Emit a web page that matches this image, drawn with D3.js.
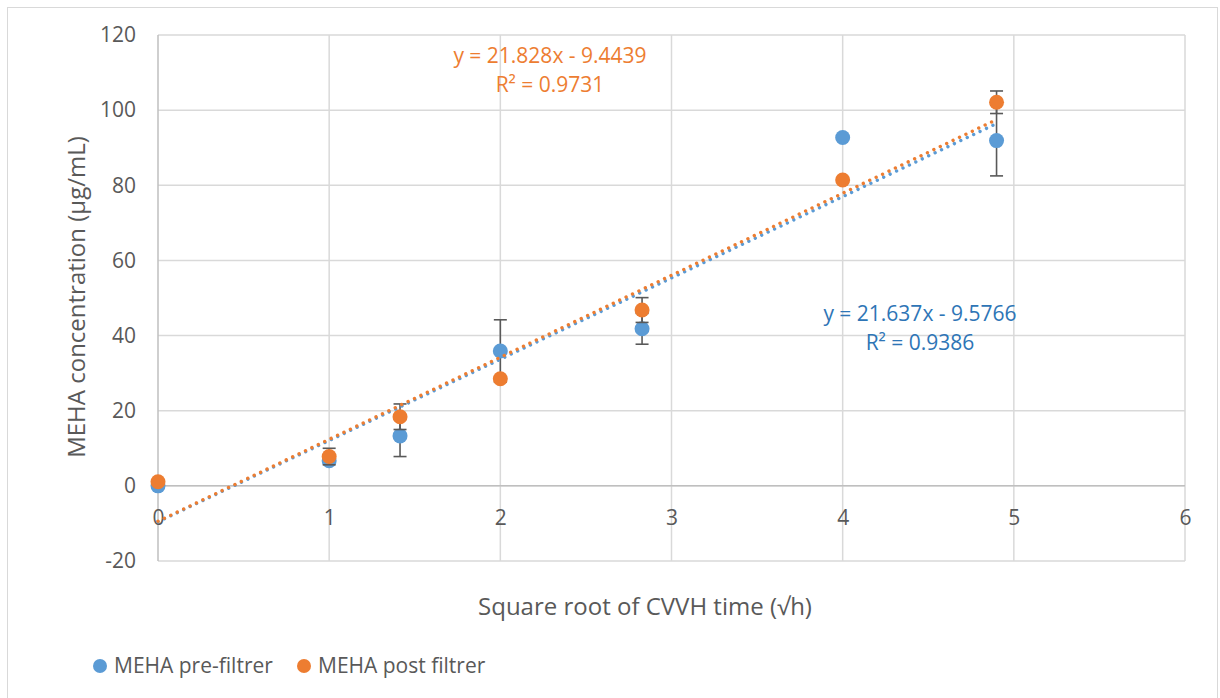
<!DOCTYPE html>
<html>
<head>
<meta charset="utf-8">
<script src="https://cdn.jsdelivr.net/npm/d3@7"></script>
<style>
  html, body { margin: 0; padding: 0; background: #fff; }
  svg text { font-family: "Open Sans", "Noto Sans", sans-serif; }
</style>
</head>
<body>
<svg id="chart" width="1220" height="698"></svg>
<script>
// ---- data ----
const xValues = [0, 1, 1.414, 2, 2.828, 4, 4.899];
const preFilter = [0, 6.7, 13.3, 35.9, 41.8, 92.7, 91.9];
const preFilterErr = [0, 0, 5.5, 8.3, 4.1, 0, 9.4];
const postFilter = [1.1, 7.8, 18.4, 28.5, 46.8, 81.4, 102.1];
const postFilterErr = [0, 2.2, 3.4, 0, 3.3, 0, 3.0];
const seriesNames = ["MEHA pre-filtrer", "MEHA post filtrer"];
const trendPre = { slope: 21.637, intercept: -9.5766, r2: "0.9386" };
const trendPost = { slope: 21.828, intercept: -9.4439, r2: "0.9731" };
const xTicks = [0, 1, 2, 3, 4, 5, 6];
const yTicks = [-20, 0, 20, 40, 60, 80, 100, 120];
const xTitle = "Square root of CVVH time (√h)";
const yTitle = "MEHA concentration (µg/mL)";

// ---- layout ----
const colors = ["#5B9BD5", "#ED7D31"];
const eqColors = ["#2E75B6", "#ED7D31"];
const svg = d3.select("#chart");
const x = d3.scaleLinear().domain([0, 6]).range([158, 1185]);
const y = d3.scaleLinear().domain([-20, 120]).range([561, 35]);

// outer border
svg.append("rect").attr("x", 7.5).attr("y", 7.5).attr("width", 1210).attr("height", 700)
  .attr("fill", "#fff").attr("stroke", "#D9D9D9").attr("stroke-width", 1);

// gridlines
const grid = svg.append("g");
grid.selectAll("line.h").data(yTicks).enter().append("line")
  .attr("x1", x(0)).attr("x2", x(6))
  .attr("y1", d => y(d)).attr("y2", d => y(d))
  .attr("stroke", "#D9D9D9").attr("stroke-width", 1.5);
grid.selectAll("line.v").data(xTicks.slice(1)).enter().append("line")
  .attr("x1", d => x(d)).attr("x2", d => x(d))
  .attr("y1", y(120)).attr("y2", y(-20))
  .attr("stroke", "#D9D9D9").attr("stroke-width", 1.5);

// axis lines
svg.append("line").attr("x1", x(0)).attr("x2", x(0)).attr("y1", y(120)).attr("y2", y(-20))
  .attr("stroke", "#BFBFBF").attr("stroke-width", 1.5);
svg.append("line").attr("x1", x(0)).attr("x2", x(6)).attr("y1", y(0)).attr("y2", y(0))
  .attr("stroke", "#BFBFBF").attr("stroke-width", 1.5);

// tick labels via d3 axes (lines hidden)
const yAxis = svg.append("g").attr("transform", `translate(${x(0)},0)`)
  .call(d3.axisLeft(y).tickValues(yTicks).tickSize(0).tickPadding(22).tickFormat(d => String(d)));
const xAxis = svg.append("g").attr("transform", `translate(0,${y(0)})`)
  .call(d3.axisBottom(x).tickValues(xTicks).tickSize(0).tickPadding(24).tickFormat(d => String(d)));
[yAxis, xAxis].forEach(a => {
  a.select(".domain").remove();
  a.selectAll("text").attr("fill", "#595959").style("font-size", "21px")
    .style("font-family", '"Open Sans", sans-serif');
});

// axis titles
svg.append("text").attr("x", 645).attr("y", 615).attr("text-anchor", "middle")
  .attr("fill", "#595959").style("font-size", "24px").text(xTitle);
svg.append("text").attr("transform", "translate(85,297) rotate(-90)").attr("text-anchor", "middle")
  .attr("fill", "#595959").style("font-size", "24px").text(yTitle);

// series
const series = [
  { vals: preFilter, err: preFilterErr, color: colors[0] },
  { vals: postFilter, err: postFilterErr, color: colors[1] }
];
series.forEach(s => {
  const pts = xValues.map((xv, i) => ({ x: xv, y: s.vals[i], e: s.err[i] }));
  const g = svg.append("g");
  const eb = pts.filter(p => p.e > 0);
  g.selectAll("line.eb").data(eb).enter().append("line")
    .attr("x1", p => x(p.x)).attr("x2", p => x(p.x))
    .attr("y1", p => y(p.y - p.e)).attr("y2", p => y(p.y + p.e))
    .attr("stroke", "#595959").attr("stroke-width", 1.6);
  [-1, 1].forEach(sg => {
    g.selectAll("line.cap" + sg).data(eb).enter().append("line")
      .attr("x1", p => x(p.x) - 6.5).attr("x2", p => x(p.x) + 6.5)
      .attr("y1", p => y(p.y + sg * p.e)).attr("y2", p => y(p.y + sg * p.e))
      .attr("stroke", "#595959").attr("stroke-width", 1.6);
  });
  g.selectAll("circle").data(pts).enter().append("circle")
    .attr("cx", p => x(p.x)).attr("cy", p => y(p.y)).attr("r", 7.5)
    .attr("fill", s.color);
});

// trendlines
const xMax = d3.max(xValues);
[trendPre, trendPost].forEach((t, i) => {
  const line = d3.line().x(d => x(d)).y(d => y(t.slope * d + t.intercept));
  svg.append("path").datum([0, xMax]).attr("d", line)
    .attr("fill", "none").attr("stroke", colors[i]).attr("stroke-width", 3.4)
    .attr("stroke-linecap", "round").attr("stroke-dasharray", "0.01 7.1");
});

// equations
function eq(t, cx, cy, col) {
  const sign = t.intercept < 0 ? " - " : " + ";
  svg.append("text").attr("x", cx).attr("y", cy).attr("text-anchor", "middle")
    .attr("fill", col).style("font-size", "21px")
    .text(`y = ${t.slope}x${sign}${Math.abs(t.intercept)}`);
  svg.append("text").attr("x", cx).attr("y", cy + 29).attr("text-anchor", "middle")
    .attr("fill", col).style("font-size", "21px")
    .text(`R² = ${t.r2}`);
}
eq(trendPost, 550, 63, eqColors[1]);
eq(trendPre, 920, 321, eqColors[0]);

// legend
const legX = [100, 304];
seriesNames.forEach((n, i) => {
  svg.append("circle").attr("cx", legX[i]).attr("cy", 666).attr("r", 7).attr("fill", colors[i]);
  svg.append("text").attr("x", legX[i] + 14).attr("y", 673).attr("fill", "#595959")
    .style("font-size", "21px").text(n);
});
</script>
</body>
</html>
